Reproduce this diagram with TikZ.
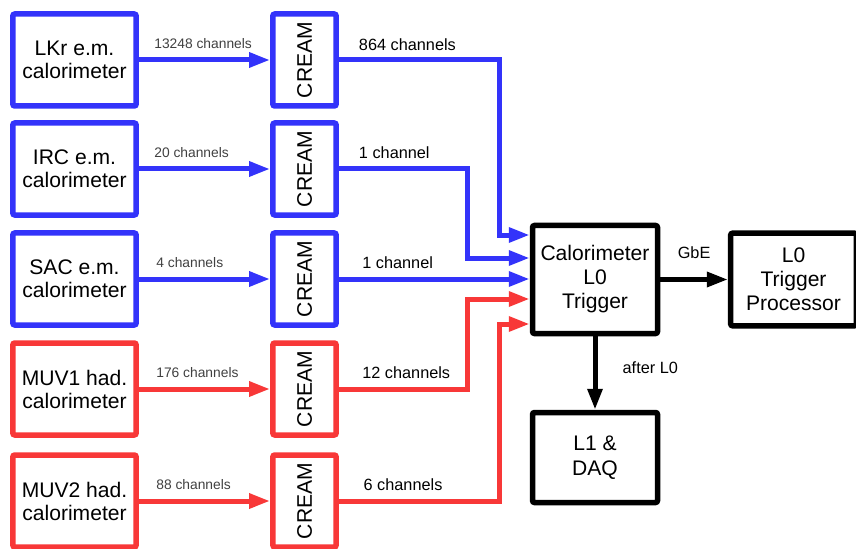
\documentclass[tikz,border=0pt]{standalone}
\usepackage{fontspec}
\setmainfont{Liberation Sans}
\usepackage{graphicx}
\usetikzlibrary{arrows.meta,positioning}
\definecolor{emblue}{RGB}{51,51,250}
\definecolor{hadred}{RGB}{248,56,56}

\begin{document}
\begin{tikzpicture}[x=0.3mm, y=-0.3mm,
  box/.style={draw, line width=1.65mm, rounded corners=0.6mm, fill=white, align=center,
    font=\fontsize{18}{19.6}\selectfont, minimum width=37mm, minimum height=27.6mm, inner sep=0pt},
  crbox/.style={box, minimum width=19mm},
  trig/.style={box, draw=black, minimum width=37.5mm, minimum height=27mm},
  link/.style={line width=1.5mm, -{Triangle[length=6.3mm, width=4.3mm]}},
  nch/.style={font=\fontsize{11.8}{13}\selectfont, text=black!75, inner sep=1pt},
  och/.style={font=\fontsize{13.9}{16}\selectfont, inner sep=1pt}]
  \useasboundingbox (0,0) rectangle (856,549);

  % detectors
  \node[box, draw=emblue] (lkr) at (74.5,60) {LKr e.m.\\calorimeter};
  \node[box, draw=emblue] (irc) at (74.5,169) {IRC e.m.\\calorimeter};
  \node[box, draw=emblue] (sac) at (74.5,279) {SAC e.m.\\calorimeter};
  \node[box, draw=hadred] (muv1) at (74.5,389) {MUV1 had.\\calorimeter};
  \node[box, draw=hadred] (muv2) at (74.5,501) {MUV2 had.\\calorimeter};

  % readout boards
  \node[crbox, draw=emblue] (cr1) at (304.5,60) {\rotatebox{90}{CREAM}};
  \node[crbox, draw=emblue] (cr2) at (304.5,169) {\rotatebox{90}{CREAM}};
  \node[crbox, draw=emblue] (cr3) at (304.5,279) {\rotatebox{90}{CREAM}};
  \node[crbox, draw=hadred] (cr4) at (304.5,389) {\rotatebox{90}{CREAM}};
  \node[crbox, draw=hadred] (cr5) at (304.5,501) {\rotatebox{90}{CREAM}};

  % trigger
  \node[trig, minimum height=32.4mm, font=\fontsize{18}{20.5}\selectfont] (cal) at (595,279.5) {Calorimeter\\L0\\Trigger};
  \node[trig, minimum width=37.7mm, minimum height=27.8mm, font=\fontsize{18}{20.5}\selectfont] (tp) at (793.5,279.5) {L0\\Trigger\\Processor};
  \node[trig, minimum height=27mm, font=\fontsize{18}{21}\selectfont] (daq) at (595,457.5) {L1 \&\\DAQ};

  % detector to CREAM
  \draw[link, emblue] (lkr) -- (cr1);
  \draw[link, emblue] (irc) -- (cr2);
  \draw[link, emblue] (sac) -- (cr3);
  \draw[link, hadred] (muv1) -- (cr4);
  \draw[link, hadred] (muv2) -- (cr5);
  \node[nch, above right=3.1mm and 4.2mm of lkr.east] {13248 channels};
  \node[nch, above right=3.1mm and 4.2mm of irc.east] {20 channels};
  \node[nch, above right=3.1mm and 4.8mm of sac.east] {4 channels};
  \node[nch, above right=3.1mm and 4.8mm of muv1.east] {176 channels};
  \node[nch, above right=3.1mm and 4.8mm of muv2.east] {88 channels};

  % CREAM to trigger
  \coordinate (j1) at (499,235);
  \coordinate (j2) at (467,258);
  \coordinate (j4) at (467,299);
  \coordinate (j5) at (499,324);
  \draw[link, emblue] (cr1.east) -| (j1) -- (j1 -| cal.west);
  \draw[link, emblue] (cr2.east) -| (j2) -- (j2 -| cal.west);
  \draw[link, emblue] (cr3.east) -- (cr3.east -| cal.west);
  \draw[link, hadred] (cr4.east) -| (j4) -- (j4 -| cal.west);
  \draw[link, hadred] (cr5.east) -| (j5) -- (j5 -| cal.west);
  \node[och, above right=2.4mm and 5.6mm of cr1.east] {864 channels};
  \node[och, above right=2.6mm and 5.6mm of cr2.east] {1 channel};
  \node[och, above right=2.6mm and 6.6mm of cr3.east] {1 channel};
  \node[och, above right=2.6mm and 6.6mm of cr4.east] {12 channels};
  \node[och, above right=2.6mm and 7mm of cr5.east] {6 channels};

  % trigger outputs
  \draw[link] (cal) -- node[och, midway, above=5.2mm] {GbE} (tp);
  \draw[link] (cal) -- node[och, midway, right=7.2mm, yshift=1.5mm] {after L0} (daq);
\end{tikzpicture}
\end{document}
